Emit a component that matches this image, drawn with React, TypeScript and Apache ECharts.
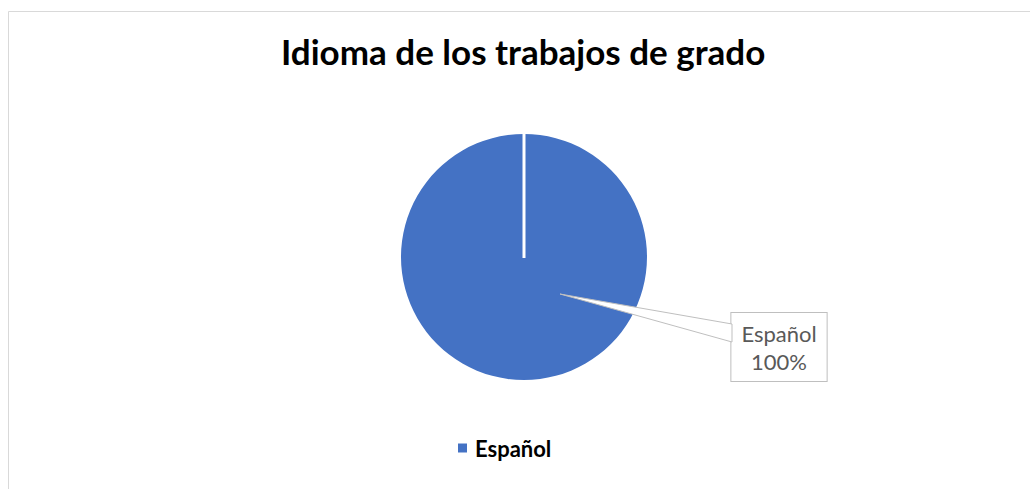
import React, { useEffect, useRef } from "react";
import * as echarts from "echarts";

const titleText = "Idioma de los trabajos de grado";
const categories = ["Español"];
const values = [100];
const colors = ["#4472C4"];

export default function App() {
  const ref = useRef<HTMLDivElement>(null);
  useEffect(() => {
    if (!ref.current) return;
    const chart = echarts.init(ref.current, null, { renderer: "svg" });
    const font = "Lato, 'Open Sans', sans-serif";
    chart.setOption({
      animation: false,
      backgroundColor: "#ffffff",
      color: colors,
      title: {
        text: titleText,
        left: 276,
        top: 28,
        textStyle: { fontFamily: font, fontSize: 35, fontWeight: "bold", color: "#000000" },
      },
      legend: {
        data: categories,
        left: 453,
        top: 432,
        icon: "rect",
        itemWidth: 9,
        itemHeight: 9,
        itemGap: 10,
        textStyle: { fontFamily: font, fontSize: 22, fontWeight: "bold", color: "#000000", padding: [0, 0, 0, 3] },
      },
      graphic: [
        {
          type: "rect",
          z: -10,
          silent: true,
          shape: { x: 8.5, y: 11.5, width: 1040, height: 500 },
          style: { fill: "none", stroke: "#D9D9D9", lineWidth: 1 },
        },
        {
          type: "line",
          z: 10,
          silent: true,
          shape: { x1: 524, y1: 132, x2: 524, y2: 258 },
          style: { stroke: "#ffffff", lineWidth: 3 },
        },
        {
          type: "polygon",
          z: 10,
          silent: true,
          shape: { points: [[560, 294], [732, 324], [732, 342]] },
          style: { fill: "#ffffff", stroke: "#BFBFBF", lineWidth: 1 },
        },
      ],
      series: [
        {
          type: "pie",
          center: [524, 257],
          radius: 123,
          startAngle: 90,
          z: 2,
          data: categories.map((c, i) => ({ name: c, value: values[i] })),
          itemStyle: { borderWidth: 0 },
          label: {
            show: true,
            formatter: "{b}\n{d}%",
            fontFamily: font,
            fontSize: 22,
            lineHeight: 28,
            color: "#595959",
            backgroundColor: "#ffffff",
            borderColor: "#BFBFBF",
            borderWidth: 1,
            padding: [6, 10, 6, 10],
            align: "center",
          },
          labelLine: { show: false },
          labelLayout: { x: 779, y: 347, align: "center", verticalAlign: "middle" },
        },
      ],
    });
    return () => chart.dispose();
  }, []);
  return (
    <div
      ref={ref}
      style={{ position: "absolute", left: 0, top: 0, width: 1030, height: 489 }}
    />
  );
}
